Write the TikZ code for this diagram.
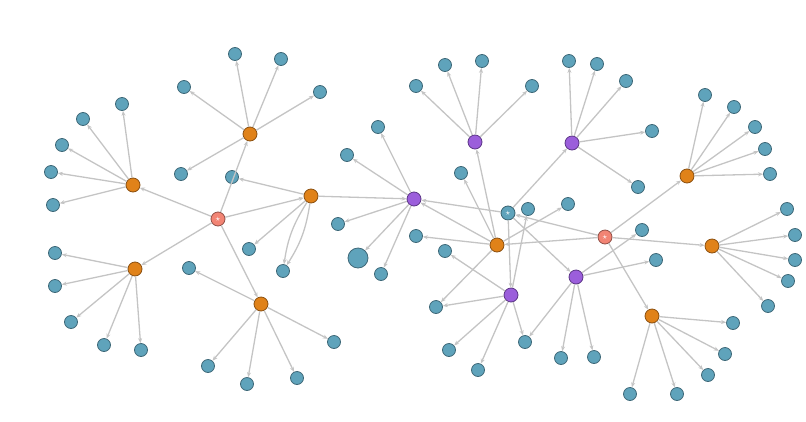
\documentclass[tikz,border=0pt]{standalone}
\usetikzlibrary{arrows.meta}
\definecolor{leaf}{HTML}{5FA3BB}
\definecolor{leafb}{HTML}{3E6878}
\definecolor{hub}{HTML}{E08219}
\definecolor{hubb}{HTML}{8A4F10}
\definecolor{pur}{HTML}{9B5EDB}
\definecolor{purb}{HTML}{5B3585}
\definecolor{red}{HTML}{F28474}
\definecolor{edge}{HTML}{C4C4C4}
\tikzset{
 lf/.style={circle,fill=leaf,draw=leafb,line width=0.8pt,minimum size=13pt,inner sep=0pt},
 hb/.style={circle,fill=hub,draw=hubb,line width=0.8pt,minimum size=14pt,inner sep=0pt},
 pu/.style={circle,fill=pur,draw=purb,line width=0.8pt,minimum size=14pt,inner sep=0pt},
 st/.style={circle,draw=#1!60!black,fill=#1,line width=0.8pt,minimum size=14pt,inner sep=0pt,font=\fontsize{9}{9}\selectfont,text=white},
 ed/.style={draw=edge,line width=1.3pt,-{Stealth[length=5pt,width=4pt]}}
}
\begin{document}
\begin{tikzpicture}[x=1pt,y=-1pt]
\useasboundingbox (0,0) rectangle (806,421);
% hubs
\foreach \n/\x/\y in {O1/133/185,O2/135/269,O3/250/134,O4/311/196,O5/261/304,O6/497/245,O7/687/176,O8/712/246,O9/652/316}
  \coordinate (\n) at (\x,\y);
\foreach \n/\x/\y in {P1/414/199,P2/475/142,P3/572/143,P4/511/295,P5/576/277}
  \coordinate (\n) at (\x,\y);
\coordinate (S1) at (218,219); \coordinate (S2) at (508,213); \coordinate (S3) at (605,237);
% leaves
\foreach \n/\x/\y in {a1/83/119,a2/122/104,a3/62/145,a4/51/172,a5/53/205,
 b1/55/253,b2/55/286,b3/71/322,b4/104/345,b5/141/350,
 c1/184/87,c2/235/54,c3/281/59,c4/320/92,c5/181/174,
 d1/232/177,d2/249/249,d3/283/271,
 e1/189/268,e2/208/366,e3/247/384,e4/297/378,e5/334/342,
 f1/378/127,f2/347/155,f3/338/224,f5/381/274,
 g1/416/86,g2/445/65,g3/482/61,g4/532/86,
 h1/569/61,h2/597/64,h3/626/81,h4/652/131,h5/638/187,
 i1/416/236,i2/461/173,i3/568/204,i4/436/307,i5/528/209,
 j1/445/251,j2/449/350,j3/478/370,j4/525/342,
 k1/642/230,k2/656/260,k3/561/358,k4/594/357,
 m1/705/95,m2/734/107,m3/755/127,m4/765/149,m5/770/174,
 n1/787/209,n2/795/235,n3/795/260,n4/788/281,n5/768/306,
 q1/630/394,q2/677/394,q3/708/375,q4/725/354,q5/733/323}
  \node[lf] (\n) at (\x,\y) {};
\node[lf,minimum size=20pt] (f4) at (358,258) {};
\foreach \n in {O1,O2,O3,O4,O5,O6,O7,O8,O9} \node[hb] (\n) at (\n) {};
\foreach \n in {P1,P2,P3,P4,P5} \node[pu] (\n) at (\n) {};
\node[st=red] (S1) at (S1) {$\star$};
\node[st=leaf] (S2) at (S2) {$\star$};
\node[st=red] (S3) at (S3) {$\star$};
% edges
\foreach \s/\t in {O1/a1,O1/a2,O1/a3,O1/a4,O1/a5,O2/b1,O2/b2,O2/b3,O2/b4,O2/b5,
 O3/c1,O3/c2,O3/c3,O3/c4,O3/c5,O4/d1,O4/d2,O5/e1,O5/e2,O5/e3,O5/e4,O5/e5,
 P1/f1,P1/f2,P1/f3,P1/f4,P1/f5,P2/g1,P2/g2,P2/g3,P2/g4,P3/h1,P3/h2,P3/h3,P3/h4,P3/h5,
 O6/i1,O6/i2,O6/i3,O6/i4,P4/i4,P4/i5,P4/j1,P4/j2,P4/j3,P4/j4,P5/k1,P5/k2,P5/j4,P5/k3,P5/k4,
 O7/m1,O7/m2,O7/m3,O7/m4,O7/m5,O8/n1,O8/n2,O8/n3,O8/n4,O8/n5,O9/q1,O9/q2,O9/q3,O9/q4,O9/q5,
 S1/O1,S1/O2,S1/O3,S1/O4,S1/O5,O4/P1,S2/P1,O6/P1,O6/P2,S2/P3,S2/P4,S2/P5,S3/S2,S3/O6,S3/O7,S3/O8,S3/O9}
  \draw[ed] (\s) -- (\t);
\draw[ed] (O4) to[bend right=12] (d3);
\draw[ed] (O4) to[bend left=12] (d3);
\end{tikzpicture}
\end{document}
